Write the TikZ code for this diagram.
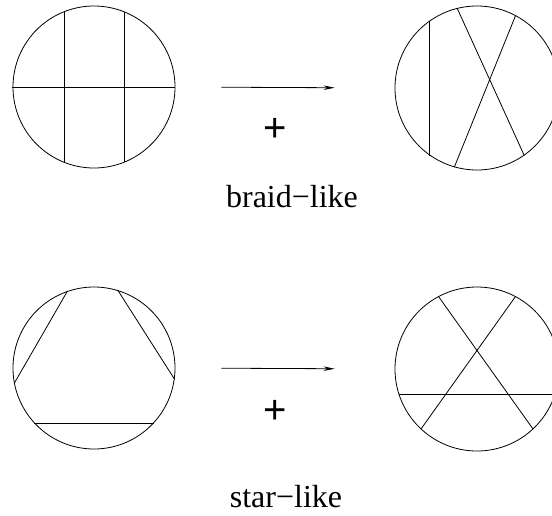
\documentclass[tikz,border=0pt]{standalone}
\usepackage{fontspec}
\setmainfont{Liberation Serif}
\newfontfamily\signfont{Liberation Sans}
\usetikzlibrary{arrows.meta,positioning}

\begin{document}
\begin{tikzpicture}[x=1pt, y=-1pt,
    disk/.style={draw, circle, line width=0.8pt, minimum size=162pt, inner sep=0pt},
    chord/.style={line width=0.8pt},
    arr/.style={-{Stealth[length=11pt,width=4.5pt]}, line width=0.8pt,
                shorten <=46pt, shorten >=60pt},
    sign/.style={font=\signfont\fontsize{40}{40}\selectfont, inner sep=0pt},
    caption/.style={font=\fontsize{32}{32}\selectfont, anchor=base, inner sep=0pt}
  ]
    \clip (0,0) rectangle (552,515);

    % braid-like
    \node[disk] (tl) at (94,87) {};
    \node[disk, minimum size=164pt] (tr) at (477,88) {};
    \draw[chord] ([xshift=-1pt]tl.west) -- (tl.east);
    \draw[chord] (tl.111) -- (tl.249);
    \draw[chord] (tl.68) -- (tl.292);
    \draw[chord] (tr.125) -- (tr.235);
    \draw[chord] (tr.104) -- (tr.-55.5);
    \draw[chord] (tr.62) -- (tr.254.5);
    \draw[arr] (tl.east) -- (tr.west);
    \node[sign] (p1) at (275,130) {+};
    \node[caption] (braid) at (292,207) {braid−like};

    % star-like
    \node[disk] (bl) at (94,368) {};
    \node[disk, minimum size=164pt] (br) at (477,369) {};
    \draw[chord] (bl.109) -- (bl.191);
    \draw[chord] (bl.73) -- (bl.-8.5);
    \draw[chord] (bl.223.5) -- (bl.-43.5);
    \draw[chord] (br.118) -- (br.-47.5);
    \draw[chord] (br.62) -- (br.227);
    \draw[chord] (br.198.5) -- (br.-18.5);
    \draw[arr] (bl.east) -- (br.west);
    \node[sign] (p2) at (275,412) {+};
    \node[caption] (star) at (286,507) {star−like};
  \end{tikzpicture}
\end{document}
